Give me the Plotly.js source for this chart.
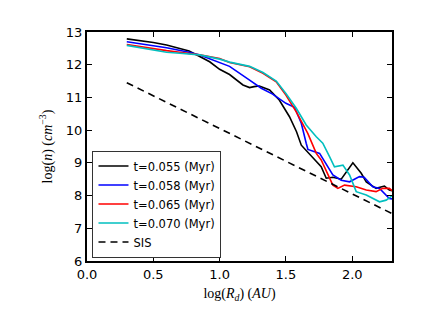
<!DOCTYPE html>
<html>
<head>
<meta charset="utf-8">
<script src="https://cdn.plot.ly/plotly-3.0.1.min.js"></script>
<style>
  body { margin: 0; background: #fff; }
  #myDiv { width: 436px; height: 327px; }
</style>
</head>
<body>
<div id="myDiv"></div>
<script>
'use strict';
// density profiles, log(n) vs log(R_d)
var x055 = [0.3, 0.4, 0.5, 0.6, 0.7, 0.77, 0.85, 0.925, 1.0, 1.075, 1.176, 1.226, 1.26, 1.30, 1.377, 1.45, 1.527, 1.58, 1.616, 1.703, 1.766, 1.804, 1.854, 1.917, 2.005, 2.068, 2.106, 2.18, 2.243, 2.28, 2.3];
var y055 = [12.79, 12.74, 12.68, 12.60, 12.50, 12.42, 12.25, 12.09, 11.86, 11.70, 11.38, 11.30, 11.33, 11.35, 11.23, 10.92, 10.41, 9.95, 9.54, 9.14, 8.88, 8.53, 8.56, 8.50, 9.00, 8.68, 8.42, 8.22, 8.29, 8.17, 8.15];

var x058 = [0.3, 0.4, 0.5, 0.6, 0.7, 0.77, 0.85, 0.925, 1.0, 1.075, 1.226, 1.314, 1.40, 1.50, 1.565, 1.616, 1.653, 1.666, 1.754, 1.854, 1.917, 1.98, 2.055, 2.09, 2.155, 2.206, 2.28, 2.3];
var y058 = [12.70, 12.65, 12.58, 12.52, 12.45, 12.38, 12.30, 12.19, 12.06, 11.95, 11.53, 11.28, 11.10, 10.82, 10.70, 10.21, 9.60, 9.41, 9.29, 8.63, 8.47, 8.42, 8.58, 8.56, 8.27, 8.22, 7.91, 7.90];

var x065 = [0.3, 0.4, 0.5, 0.6, 0.7, 0.77, 0.85, 1.0, 1.075, 1.226, 1.327, 1.427, 1.50, 1.578, 1.665, 1.729, 1.766, 1.854, 1.892, 1.942, 2.03, 2.106, 2.18, 2.23, 2.28, 2.3];
var y065 = [12.62, 12.55, 12.49, 12.43, 12.38, 12.35, 12.30, 12.19, 12.07, 11.94, 11.74, 11.48, 11.07, 10.56, 9.90, 9.29, 9.09, 8.32, 8.22, 8.32, 8.27, 8.17, 8.12, 8.22, 8.22, 8.15];

var x070 = [0.3, 0.4, 0.5, 0.6, 0.7, 0.77, 0.85, 1.0, 1.075, 1.226, 1.327, 1.427, 1.50, 1.578, 1.653, 1.729, 1.778, 1.829, 1.866, 1.93, 1.98, 2.03, 2.106, 2.206, 2.256, 2.29, 2.3];
var y070 = [12.59, 12.52, 12.45, 12.38, 12.35, 12.32, 12.30, 12.17, 12.08, 11.95, 11.76, 11.50, 11.12, 10.67, 10.16, 9.80, 9.60, 9.19, 8.88, 8.93, 8.63, 8.12, 8.02, 7.81, 7.86, 7.96, 8.00];

var xSIS = [0.3, 2.3];
var ySIS = [11.45, 7.45];

var names = ['t=0.055 (Myr)', 't=0.058 (Myr)', 't=0.065 (Myr)', 't=0.070 (Myr)', 'SIS'];
var colors = ['#000000', '#0000ff', '#ff0000', '#00bfbf', '#000000'];

var xs = [x055, x058, x065, x070, xSIS];
var ys = [y055, y058, y065, y070, ySIS];

var data = [];
for (var i = 0; i < xs.length; i++) {
  data.push({
    type: 'scatter',
    mode: 'lines',
    x: xs[i],
    y: ys[i],
    name: names[i],
    line: {
      color: colors[i],
      width: 1.6,
      dash: i === 4 ? '7px,5px' : 'solid'
    }
  });
}

var axisCommon = {
  showline: true,
  linecolor: '#000',
  linewidth: 2,
  mirror: 'ticks',
  ticks: 'inside',
  ticklen: 5,
  tickwidth: 1,
  tickcolor: '#000',
  showgrid: false,
  zeroline: false,
  tickfont: {family: 'DejaVu Sans', size: 13, color: '#000'}
};

var layout = {
  width: 436,
  height: 327,
  margin: {l: 87, r: 44, t: 32, b: 66},
  paper_bgcolor: 'white',
  plot_bgcolor: 'white',
  showlegend: true,
  legend: {
    x: 0.018, y: 0.015, xanchor: 'left', yanchor: 'bottom',
    bgcolor: 'white',
    bordercolor: '#333',
    borderwidth: 1,
    font: {family: 'DejaVu Sans', size: 11.5, color: '#000'},
    tracegroupgap: 0
  },
  xaxis: Object.assign({}, axisCommon, {
    range: [0, 2.3],
    tick0: 0,
    dtick: 0.5,
    tickformat: '.1f',
    title: {
      text: 'log(<i>R<sub>d</sub></i>) (<i>AU</i>)',
      font: {family: 'Liberation Serif', size: 14, color: '#000'},
      standoff: 8
    }
  }),
  yaxis: Object.assign({}, axisCommon, {
    range: [6, 13],
    tick0: 6,
    dtick: 1,
    title: {
      text: 'log(<i>n</i>) (<i>cm</i><sup>−3</sup>)',
      font: {family: 'Liberation Serif', size: 14, color: '#000'},
      standoff: 10
    }
  })
};

Plotly.newPlot('myDiv', data, layout, {displayModeBar: false});
</script>
</body>
</html>
